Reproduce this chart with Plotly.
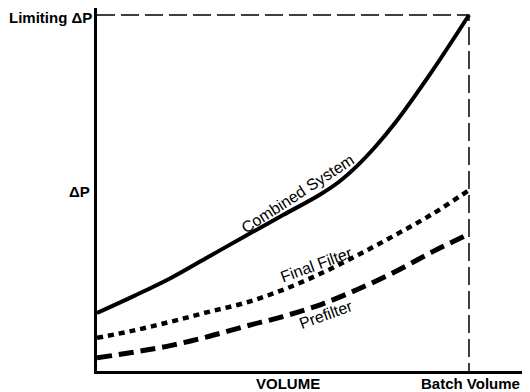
import plotly.graph_objects as go

# volume as a fraction of batch volume, pressure drop as a fraction of the limiting value
volume = [0.0, 0.1, 0.2, 0.3, 0.4, 0.5, 0.6, 0.7, 0.8, 0.9, 1.0]
final_filter = [0.093, 0.114, 0.139, 0.166, 0.192, 0.228, 0.273, 0.325, 0.381, 0.44, 0.508]
prefilter = [0.037, 0.053, 0.072, 0.097, 0.126, 0.153, 0.186, 0.229, 0.278, 0.334, 0.385]

combined_volume = [0.0, 0.1, 0.2, 0.3, 0.4, 0.5, 0.6, 0.65, 0.7, 0.75, 0.8, 0.9, 1.0]
combined_system = [0.163, 0.211, 0.262, 0.321, 0.38, 0.438, 0.496, 0.531, 0.577, 0.632,
                   0.695, 0.841, 1.0]

batch_volume = 1.0
limiting_dp = 1.0

font = 'Liberation Sans'

fig = go.Figure()

# reference lines for limiting dP and batch volume
fig.add_trace(go.Scatter(
    x=[0, batch_volume, batch_volume], y=[limiting_dp, limiting_dp, 0],
    mode='lines', line=dict(color='black', width=1.5, dash='18px,6px'),
    hoverinfo='skip', showlegend=False
))

fig.add_trace(go.Scatter(
    x=combined_volume, y=combined_system, mode='lines', name='Combined System',
    line=dict(color='black', width=4, shape='spline'), showlegend=False
))
fig.add_trace(go.Scatter(
    x=volume, y=final_filter, mode='lines', name='Final Filter',
    line=dict(color='black', width=4.5, dash='6px,5px', shape='spline'), showlegend=False
))
fig.add_trace(go.Scatter(
    x=volume, y=prefilter, mode='lines', name='Prefilter',
    line=dict(color='black', width=5, dash='15px,7px', shape='spline'), showlegend=False
))

# curve labels
label = dict(family=font, size=16, color='black')
fig.add_annotation(x=0.54, y=0.5, text='Combined System', textangle=-33,
                   showarrow=False, font=label)
fig.add_annotation(x=0.591, y=0.298, text='Final Filter', textangle=-20,
                   showarrow=False, font=label)
fig.add_annotation(x=0.616, y=0.16, text='Prefilter', textangle=-20,
                   showarrow=False, font=label)

# axis labels
bold = dict(family=font, size=15, color='black', weight='bold')
fig.add_annotation(x=0, y=limiting_dp, text='Limiting ΔP', xanchor='right', xshift=-3,
                   yshift=-2, showarrow=False, font=bold)
fig.add_annotation(x=0, y=0.503, text='ΔP', xanchor='right', xshift=-5,
                   showarrow=False, font=bold)
fig.add_annotation(x=0.513, y=0, text='VOLUME', yanchor='middle', yshift=-12,
                   showarrow=False, font=bold)
fig.add_annotation(x=1, xref='paper', y=0, text='Batch Volume', xanchor='right',
                   yanchor='middle', yshift=-12, showarrow=False, font=bold)

# page body has an 8px margin, so the figure is sized to what the window shows
fig.update_layout(
    width=514, height=384,
    margin=dict(l=89, r=0, t=0, b=21),
    paper_bgcolor='white', plot_bgcolor='white',
    xaxis=dict(range=[0, 1.1425], showgrid=False, zeroline=False, showticklabels=False,
               ticks='', showline=True, linecolor='black', linewidth=2.5),
    yaxis=dict(range=[0, 1.0197], showgrid=False, zeroline=False, showticklabels=False,
               ticks='', showline=True, linecolor='black', linewidth=2.5),
)

fig.write_html("out.html")
